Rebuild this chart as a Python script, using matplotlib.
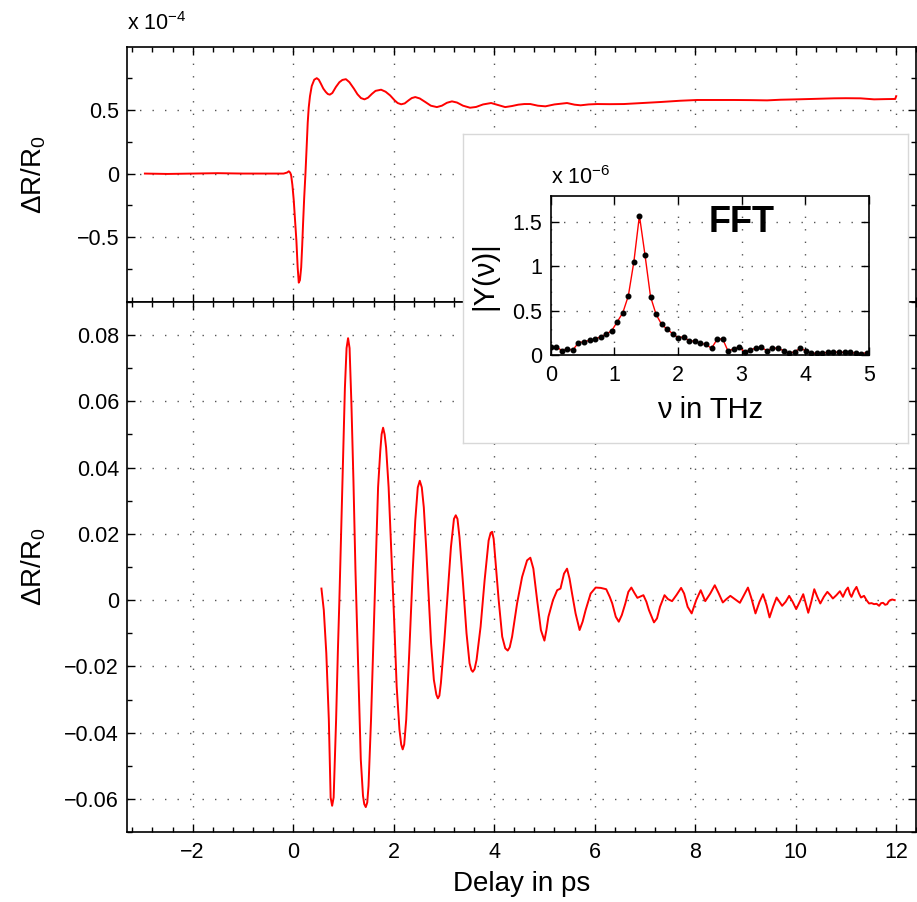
import numpy as np
import matplotlib
matplotlib.use("Agg")
import matplotlib.pyplot as plt
from matplotlib.ticker import MultipleLocator, FuncFormatter, FixedLocator

plt.rcParams['font.family'] = ['Liberation Sans', 'DejaVu Sans']
plt.rcParams['mathtext.fontset'] = 'custom'
plt.rcParams['mathtext.rm'] = 'Liberation Sans'
plt.rcParams['mathtext.it'] = 'Liberation Sans:italic'
plt.rcParams['mathtext.bf'] = 'Liberation Sans:bold'

# raw transient (delay in ps, dR/R0 in units of 1e-4)
top_pts = [
    (-2.95, 0.0), (-2.5, -0.003), (-2.0, 0.0), (-1.5, 0.003), (-1.0, 0.0),
    (-0.5, 0.0), (-0.19, 0.0), (-0.12, 0.008), (-0.087, 0.018), (-0.06, 0.008),
    (-0.04, -0.013), (-0.015, -0.09), (0.012, -0.21), (0.04, -0.38), (0.065, -0.53),
    (0.09, -0.74), (0.112, -0.86), (0.135, -0.84), (0.16, -0.74), (0.18, -0.57),
    (0.198, -0.39), (0.22, -0.19), (0.245, 0.0), (0.27, 0.22), (0.29, 0.40),
    (0.31, 0.52), (0.335, 0.61), (0.37, 0.69), (0.42, 0.74), (0.47, 0.752),
    (0.51, 0.74), (0.55, 0.71), (0.60, 0.67), (0.65, 0.643), (0.69, 0.627),
    (0.73, 0.622), (0.78, 0.635), (0.85, 0.682), (0.92, 0.72), (0.98, 0.738),
    (1.05, 0.744), (1.12, 0.72), (1.21, 0.669), (1.28, 0.625), (1.35, 0.595),
    (1.42, 0.585), (1.49, 0.598), (1.57, 0.629), (1.64, 0.652), (1.75, 0.661),
    (1.84, 0.645), (1.93, 0.616), (2.02, 0.577), (2.08, 0.556), (2.15, 0.546),
    (2.22, 0.553), (2.30, 0.578), (2.36, 0.595), (2.43, 0.603), (2.52, 0.592),
    (2.63, 0.564), (2.74, 0.535), (2.86, 0.524), (2.96, 0.535), (3.06, 0.558),
    (3.16, 0.569), (3.26, 0.56), (3.38, 0.535), (3.52, 0.519), (3.64, 0.525),
    (3.78, 0.545), (3.94, 0.556), (4.08, 0.54), (4.22, 0.524), (4.35, 0.532),
    (4.48, 0.543), (4.6, 0.548), (4.72, 0.548), (4.87, 0.535), (5.02, 0.53),
    (5.2, 0.545), (5.45, 0.556), (5.6, 0.543), (5.72, 0.538), (5.88, 0.545),
    (6.05, 0.548), (6.3, 0.547), (6.58, 0.548), (6.9, 0.555), (7.31, 0.564),
    (7.7, 0.574), (8.04, 0.58), (8.4, 0.58), (8.77, 0.58), (9.1, 0.579),
    (9.43, 0.577), (9.7, 0.582), (10.03, 0.585), (10.4, 0.589), (10.76, 0.593),
    (11.0, 0.594), (11.29, 0.593), (11.56, 0.585), (11.8, 0.587), (11.98, 0.588),
    (12.0, 0.61),
]

# oscillatory part (delay in ps, dR/R0)
bot_pts = [
    (0.563, 0.0035), (0.61, -0.003), (0.66, -0.016), (0.71, -0.036), (0.746, -0.0595),
    (0.776, -0.062), (0.806, -0.0595), (0.855, -0.036), (0.889, -0.016), (0.92, 0.0),
    (0.955, 0.020), (0.99, 0.040), (1.03, 0.064), (1.063, 0.076), (1.093, 0.079),
    (1.123, 0.076), (1.16, 0.059), (1.20, 0.036), (1.24, 0.009), (1.273, -0.009),
    (1.306, -0.028), (1.346, -0.048), (1.39, -0.059), (1.415, -0.0615), (1.445, -0.0624),
    (1.475, -0.061), (1.50, -0.056), (1.55, -0.036), (1.60, -0.011), (1.65, 0.014),
    (1.69, 0.034), (1.734, 0.045), (1.76, 0.050), (1.79, 0.052), (1.82, 0.050),
    (1.85, 0.046), (1.90, 0.034), (1.955, 0.014), (2.01, -0.006), (2.06, -0.026),
    (2.115, -0.039), (2.15, -0.0435), (2.18, -0.045), (2.21, -0.0435), (2.25, -0.036),
    (2.31, -0.016), (2.38, 0.009), (2.43, 0.024), (2.48, 0.034), (2.52, 0.036),
    (2.56, 0.034), (2.60, 0.028), (2.65, 0.015), (2.70, 0.0), (2.745, -0.013),
    (2.80, -0.024), (2.85, -0.0285), (2.88, -0.0296), (2.91, -0.0288), (2.94, -0.025),
    (3.01, -0.012), (3.08, 0.003), (3.14, 0.016), (3.20, 0.0245), (3.236, 0.0256),
    (3.27, 0.0245), (3.31, 0.019), (3.38, 0.005), (3.45, -0.010), (3.51, -0.019),
    (3.545, -0.021), (3.574, -0.0216), (3.61, -0.0208), (3.65, -0.018), (3.73, -0.008),
    (3.81, 0.006), (3.89, 0.018), (3.93, 0.0203), (3.96, 0.0206), (3.99, 0.0185),
    (4.02, 0.013), (4.09, 0.0), (4.16, -0.011), (4.22, -0.0145), (4.27, -0.0152),
    (4.31, -0.0142), (4.357, -0.011), (4.456, -0.001), (4.556, 0.007), (4.655, 0.012),
    (4.72, 0.0128), (4.78, 0.0095), (4.855, 0.0), (4.93, -0.009), (5.0, -0.0122),
    (5.04, -0.009), (5.08, -0.005), (5.17, 0.0), (5.254, 0.0030), (5.32, 0.0035),
    (5.39, 0.008), (5.45, 0.0095), (5.50, 0.0065), (5.55, 0.002), (5.62, -0.004),
    (5.70, -0.009), (5.76, -0.0065), (5.82, -0.003), (5.92, 0.002), (6.02, 0.0038),
    (6.12, 0.0037), (6.23, 0.0033), (6.30, 0.001), (6.35, -0.001), (6.42, -0.005),
    (6.48, -0.0065), (6.54, -0.0045), (6.61, -0.001), (6.67, 0.0025), (6.73, 0.0038),
    (6.79, 0.0022), (6.85, 0.0007), (6.91, 0.0011), (6.97, 0.0015), (7.03, -0.0005),
    (7.08, -0.003), (7.18, -0.0067), (7.24, -0.0055), (7.30, -0.002), (7.39, 0.0015),
    (7.46, 0.0003), (7.54, -0.0003), (7.63, 0.0016), (7.72, 0.0037), (7.78, 0.002),
    (7.85, -0.002), (7.93, -0.004), (8.02, 0.0), (8.11, 0.003), (8.20, -0.0003),
    (8.30, 0.002), (8.39, 0.0045), (8.47, 0.002), (8.55, -0.0007), (8.62, 0.0003),
    (8.70, 0.0013), (8.80, 0.0002), (8.89, -0.0008), (8.97, 0.0015), (9.05, 0.0038),
    (9.12, 0.0005), (9.20, -0.004), (9.28, -0.0005), (9.35, 0.0018), (9.42, -0.0015),
    (9.48, -0.0052), (9.55, -0.002), (9.62, 0.0008), (9.73, -0.0017), (9.80, -0.0005),
    (9.87, 0.0013), (9.94, -0.0005), (10.01, -0.0027), (10.08, -0.0005), (10.15, 0.0018),
    (10.20, -0.001), (10.25, -0.0038), (10.31, -0.0005), (10.37, 0.0033), (10.43, 0.001),
    (10.49, -0.001), (10.56, 0.001), (10.63, 0.0025), (10.69, 0.0015), (10.74, 0.0005),
    (10.81, 0.0015), (10.88, 0.0027), (10.94, 0.001), (11.0, 0.003), (11.04, 0.0038),
    (11.08, 0.0018), (11.11, 0.001), (11.16, 0.0028), (11.21, 0.004), (11.26, 0.002),
    (11.30, 0.0008), (11.36, 0.0013), (11.41, 0.0), (11.46, -0.001), (11.51, -0.0009),
    (11.56, -0.0012), (11.61, -0.0011), (11.66, -0.0017), (11.70, -0.0009), (11.74, -0.0008),
    (11.78, -0.0014), (11.82, -0.0012), (11.85, -0.0004), (11.88, 0.0), (11.92, 0.0002),
    (11.97, 0.0),
]
top_t, top_v = zip(*top_pts)
bot_t, bot_v = zip(*bot_pts)

# FFT magnitude, units of 1e-6
fft_amp = [0.094, 0.094, 0.05, 0.068, 0.056, 0.139, 0.15, 0.165, 0.18, 0.206,
           0.236, 0.274, 0.375, 0.477, 0.668, 1.054, 1.576, 1.133, 0.66, 0.46,
           0.345, 0.293, 0.24, 0.195, 0.206, 0.158, 0.158, 0.131, 0.12, 0.075,
           0.176, 0.184, 0.041, 0.071, 0.086, 0.034, 0.056, 0.079, 0.086, 0.049,
           0.079, 0.075, 0.049, 0.019, 0.038, 0.075, 0.049, 0.019, 0.019, 0.022,
           0.03, 0.034, 0.03, 0.03, 0.03, 0.019, 0.015, 0.026]
df = 1 / 11.47
fft_freq = np.arange(len(fft_amp)) * df

W, H = 917, 902
fig = plt.figure(figsize=(W / 100, H / 100), dpi=100)


def rect(l, t, r, b):
    return [l / W, 1 - b / H, (r - l) / W, (b - t) / H]


def fmt(v, pos):
    s = '%g' % round(v, 6)
    return s.replace('-', '\u2212')


grid_kw = dict(color='#555555', linestyle=(0, (1, 8)), linewidth=1.0)
TICK = 15.5
LAB = 20


def style(ax):
    ax.tick_params(which='both', direction='in', top=True, right=True,
                   labelsize=TICK, width=1)
    ax.tick_params(which='major', length=6)
    ax.tick_params(which='minor', length=3.5)
    ax.tick_params(axis='x', pad=7)
    ax.tick_params(axis='y', pad=6)
    for s in ax.spines.values():
        s.set_linewidth(1.2)
    ax.grid(True, which='major', **grid_kw)
    ax.set_axisbelow(True)


ax1 = fig.add_axes(rect(127.3, 46.7, 916.3, 301.7))
ax2 = fig.add_axes(rect(127.3, 301.7, 916.3, 832.3), sharex=ax1)

ax1.plot(top_t, top_v, color='red', lw=1.4)
ax2.plot(bot_t, bot_v, color='red', lw=1.4)

for ax in (ax1, ax2):
    style(ax)
    ax.xaxis.set_major_locator(MultipleLocator(2))
    ax.xaxis.set_minor_locator(MultipleLocator(0.4))
    ax.xaxis.set_major_formatter(FuncFormatter(fmt))
    ax.yaxis.set_major_formatter(FuncFormatter(fmt))

ax1.set_xlim(-3.3, 12.4)
ax1.set_ylim(-1.01, 1.0)
ax1.yaxis.set_major_locator(FixedLocator([-0.5, 0, 0.5]))
ax1.yaxis.set_minor_locator(FixedLocator([-0.75, -0.25, 0.25, 0.75]))
ax1.tick_params(labelbottom=False)
ax1.set_ylabel('\u0394R/R$_0$', fontsize=LAB)
ax1.yaxis.set_label_coords(-0.1005, 0.5)
ax1.text(0, 1.045, 'x 10$^{\u22124}$', transform=ax1.transAxes,
         fontsize=TICK, ha='left', va='bottom')

ax2.set_ylim(-0.07, 0.09)
ax2.yaxis.set_major_locator(MultipleLocator(0.02))
ax2.yaxis.set_minor_locator(MultipleLocator(0.01))
ax2.set_ylabel('\u0394R/R$_0$', fontsize=LAB)
ax2.yaxis.set_label_coords(-0.1005, 0.5)
ax2.set_xlabel('Delay in ps', fontsize=LAB)
ax2.xaxis.set_label_coords(0.5, -0.073)

# inset frame
frame = fig.add_axes(rect(463.3, 134.3, 907.7, 442.7))
frame.set_xticks([])
frame.set_yticks([])
frame.set_facecolor('white')
for s in frame.spines.values():
    s.set_color('#d8d8d8')
    s.set_linewidth(1)

ax3 = fig.add_axes(rect(550.7, 195.7, 868.7, 355.0))
ax3.plot(fft_freq, fft_amp, color='red', lw=1, marker='o', ms=3.3,
         mfc='black', mec='black')
style(ax3)
ax3.set_xlim(0, 5)
ax3.set_ylim(0, 1.8)
ax3.xaxis.set_major_locator(MultipleLocator(1))
ax3.yaxis.set_major_locator(MultipleLocator(0.5))
ax3.xaxis.set_major_formatter(FuncFormatter(fmt))
ax3.yaxis.set_major_formatter(FuncFormatter(fmt))
ax3.set_xlabel('\u03bd in THz', fontsize=21)
ax3.xaxis.set_label_coords(0.5, -0.257)
ax3.set_ylabel('|Y(\u03bd)|', fontsize=21)
ax3.yaxis.set_label_coords(-0.166, 0.5)
ax3.text(0, 1.04, 'x 10$^{\u22126}$', transform=ax3.transAxes,
         fontsize=TICK, ha='left', va='bottom')
ax3.text(3.0, 1.5, 'FFT', fontsize=26, fontweight='bold',
         ha='center', va='center')

fig.savefig('out.png', dpi=100)
